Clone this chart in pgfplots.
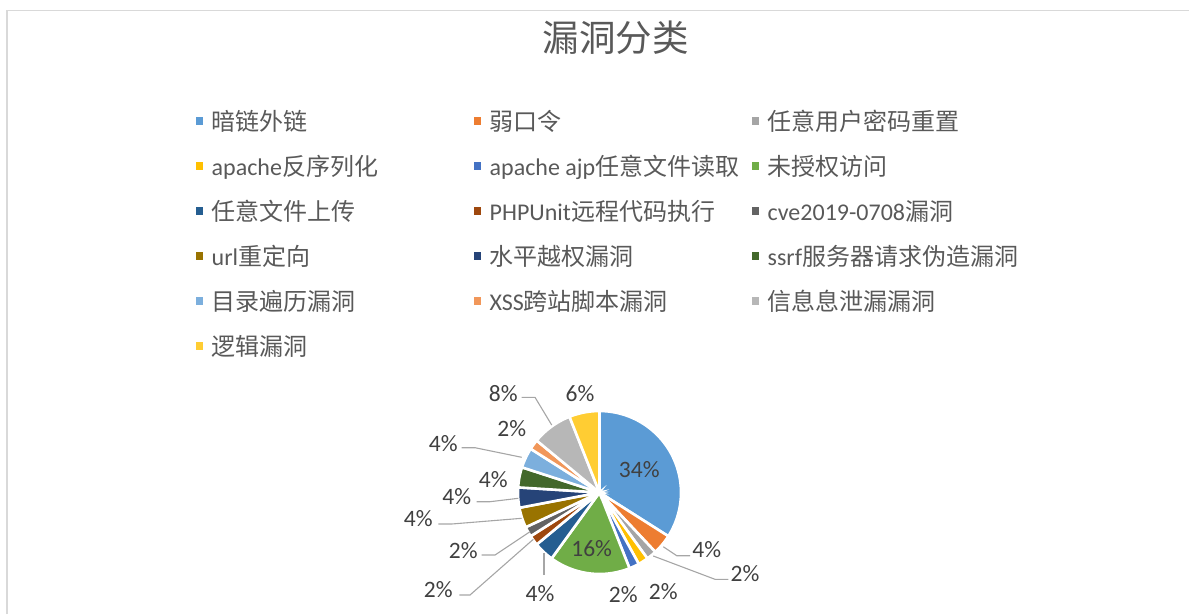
\documentclass[border=0pt]{standalone}
\usepackage{pgfplots}
\pgfplotsset{compat=1.18}
\usepackage{fontspec}
\setmainfont{Carlito}
\newfontfamily\cjk{Noto Sans CJK SC}
\definecolor{c1}{HTML}{5B9BD5}
\definecolor{c2}{HTML}{ED7D31}
\definecolor{c3}{HTML}{A5A5A5}
\definecolor{c4}{HTML}{FFC000}
\definecolor{c5}{HTML}{4472C4}
\definecolor{c6}{HTML}{70AD47}
\definecolor{c7}{HTML}{255E91}
\definecolor{c8}{HTML}{9E480E}
\definecolor{c9}{HTML}{636363}
\definecolor{c10}{HTML}{997300}
\definecolor{c11}{HTML}{264478}
\definecolor{c12}{HTML}{43682B}
\definecolor{c13}{HTML}{7CAFDD}
\definecolor{c14}{HTML}{F1975A}
\definecolor{c15}{HTML}{B7B7B7}
\definecolor{c16}{HTML}{FFCD33}
\definecolor{txtc}{HTML}{595959}
\definecolor{lblc}{HTML}{404040}
\definecolor{leadc}{HTML}{A6A6A6}
\definecolor{framec}{HTML}{D9D9D9}
% pie centre and radius in picture pixels
\def\cx{599.5}
\def\cy{492.5}
\def\R{81.5}
% slice from cumulative percent #1 to #2
\newcommand{\pieslice}[3]{%
  \pgfmathsetmacro{\angA}{90-3.6*#2}%
  \pgfmathsetmacro{\angB}{90-3.6*#1}%
  \addplot[fill=#3, draw=white, line width=2.6pt, domain=\angA:\angB, samples=60]
    ({\cx+\R*cos(x)},{\cy-\R*sin(x)}) -- (axis cs:\cx,\cy) -- cycle;
}
\newcommand{\plabel}[2]{\node[lblc, inner sep=0pt, font=\fontsize{23.5}{23.5}\selectfont] at (axis cs:#1) {#2};}
\newcommand{\lgd}[1]{\addlegendentry{\makebox[262pt][l]{#1}}}
\begin{document}
\begin{tikzpicture}
\begin{axis}[
  at={(0,0)}, anchor=south west,
  width=1189pt, height=614pt, scale only axis,
  xmin=0, xmax=1189, ymin=0, ymax=614, y dir=reverse,
  hide axis, clip=false,
  legend columns=3,
  legend cell align=left,
  legend style={at={(axis cs:195.7,109)}, anchor=north west, draw=none, fill=none,
    inner sep=0pt, outer sep=0pt, row sep=21pt, text=txtc,
    font=\fontsize{24}{24}\selectfont,
    nodes={inner sep=0pt, text height=21pt, text depth=3pt, anchor=west},
    /tikz/every odd column/.style={column sep=8.4pt},
    /tikz/every even column/.style={column sep=0pt}},
  legend image code/.code={\fill[#1, draw=none] (0pt,-3.8pt) rectangle (7.6pt,3.8pt);},
]
\draw[framec, line width=1.5pt] (axis cs:7,614) -- (axis cs:7,10.3) -- (axis cs:1189,10.3);
\node[txtc, inner sep=0pt, font=\fontsize{36.5}{36.5}\selectfont\cjk] at (axis cs:615.5,38) {漏洞分类};

\pieslice{0}{34}{c1}   \lgd{\cjk 暗链外链}
\pieslice{34}{38}{c2}  \lgd{\cjk 弱口令}
\pieslice{38}{40}{c3}  \lgd{\cjk 任意用户密码重置}
\pieslice{40}{42}{c4}  \lgd{apache{\cjk 反序列化}}
\pieslice{42}{44}{c5}  \lgd{apache ajp{\cjk 任意文件读取}}
\pieslice{44}{60}{c6}  \lgd{\cjk 未授权访问}
\pieslice{60}{64}{c7}  \lgd{\cjk 任意文件上传}
\pieslice{64}{66}{c8}  \lgd{PHPUnit{\cjk 远程代码执行}}
\pieslice{66}{68}{c9}  \lgd{cve2019-0708{\cjk 漏洞}}
\pieslice{68}{72}{c10} \lgd{url{\cjk 重定向}}
\pieslice{72}{76}{c11} \lgd{\cjk 水平越权漏洞}
\pieslice{76}{80}{c12} \lgd{ssrf{\cjk 服务器请求伪造漏洞}}
\pieslice{80}{84}{c13} \lgd{\cjk 目录遍历漏洞}
\pieslice{84}{86}{c14} \lgd{XSS{\cjk 跨站脚本漏洞}}
\pieslice{86}{94}{c15} \lgd{\cjk 信息息泄漏漏洞}
\pieslice{94}{100}{c16} \lgd{\cjk 逻辑漏洞}

% leader lines
\addplot[leadc, line width=1.1pt, forget plot] coordinates {(690,555.7) (676.7,555.7) (663.3,546.7)};
\addplot[leadc, line width=1.1pt, forget plot] coordinates {(728.3,579.3) (715,579.3) (653.3,556)};
\addplot[leadc, line width=1.1pt, forget plot] coordinates {(544,575) (544,553.3)};
\addplot[leadc, line width=1.1pt, forget plot] coordinates {(459.3,595) (470,595) (533.3,539.3)};
\addplot[leadc, line width=1.1pt, forget plot] coordinates {(481.7,555) (495,555) (530,531.7)};
\addplot[leadc, line width=1.1pt, forget plot] coordinates {(438.3,524) (451.7,524) (521.7,518.3)};
\addplot[leadc, line width=1.1pt, forget plot] coordinates {(476.7,501.7) (490,501.7) (518.3,498.3)};
\addplot[leadc, line width=1.1pt, forget plot] coordinates {(461.7,447.7) (475,447.7) (521.7,457.3)};
\addplot[leadc, line width=1.1pt, forget plot] coordinates {(521.7,397.3) (535,397.3) (551.7,425)};

% data labels
\plabel{639.3,470}{34\%}
\plabel{706.7,550}{4\%}
\plabel{745,573.3}{2\%}
\plabel{663.3,591.7}{2\%}
\plabel{623.3,595}{2\%}
\plabel{591.7,548.3}{16\%}
\plabel{540,593.3}{4\%}
\plabel{438.3,590}{2\%}
\plabel{463.3,550.7}{2\%}
\plabel{418.3,518.3}{4\%}
\plabel{456.7,496.7}{4\%}
\plabel{493.3,480}{4\%}
\plabel{443.3,443.3}{4\%}
\plabel{511.7,428.3}{2\%}
\plabel{503.3,393.3}{8\%}
\plabel{580,393.3}{6\%}
\end{axis}
\pgfresetboundingbox
\path[use as bounding box] (0,0) rectangle (1189pt,614pt);
\end{tikzpicture}
\end{document}
